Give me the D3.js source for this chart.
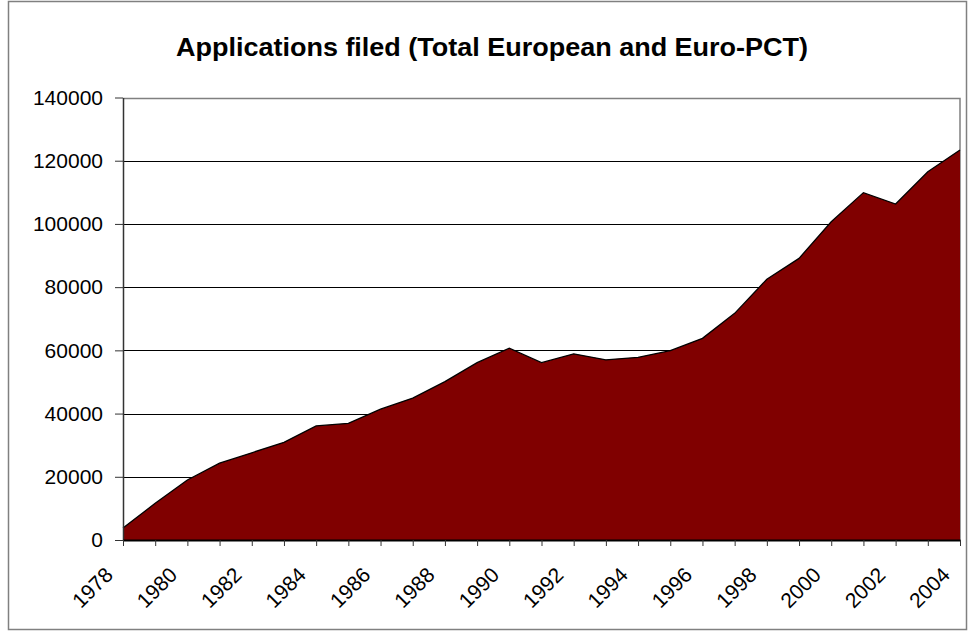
<!DOCTYPE html>
<html>
<head>
<meta charset="utf-8">
<script src="https://cdn.jsdelivr.net/npm/d3@7"></script>
<style>
  html, body { margin: 0; padding: 0; background: #fff; }
  svg { display: block; font-family: Arial, "Liberation Sans", sans-serif; }
</style>
</head>
<body>
<svg id="chart" width="968" height="632"></svg>
<script>
const title = "Applications filed (Total European and Euro-PCT)";
const years = [1978,1979,1980,1981,1982,1983,1984,1985,1986,1987,1988,1989,1990,1991,1992,1993,1994,1995,1996,1997,1998,1999,2000,2001,2002,2003,2004];
const applications = [3800,11600,19000,24300,27600,30900,36100,36900,41400,44900,50100,56100,60700,56100,58900,57000,57800,59900,63800,71700,82500,89100,100700,109900,106300,116500,123400];
const yTicks = [0,20000,40000,60000,80000,100000,120000,140000];
const xLabelYears = [1978,1980,1982,1984,1986,1988,1990,1992,1994,1996,1998,2000,2002,2004];

const svg = d3.select("#chart");
const L = 123, R = 960, T = 97.5, B = 540;

// outer border
svg.append("rect").attr("x", 8.5).attr("y", 1.5).attr("width", 958).attr("height", 628)
  .attr("fill", "#fff").attr("stroke", "#808080").attr("stroke-width", 1.5);

const x = d3.scaleLinear().domain([years[0], years[years.length-1]]).range([L, R]);
const y = d3.scaleLinear().domain([0, 140000]).range([B, T]);

// gridlines
svg.append("g").selectAll("line").data(yTicks.filter(d => d > 0 && d < 140000)).join("line")
  .attr("x1", L).attr("x2", R).attr("y1", d => Math.round(y(d)) + 0.5).attr("y2", d => Math.round(y(d)) + 0.5)
  .attr("stroke", "#000").attr("stroke-width", 1);

// plot border top & right (gray)
svg.append("path")
  .attr("d", `M${L},${Math.round(T)+0.5}H${R}V${B}`)
  .attr("fill", "none").attr("stroke", "#808080").attr("stroke-width", 1.5);

// area
const data = years.map((yr, i) => ({ yr, v: applications[i] }));
svg.append("path").datum(data)
  .attr("d", d3.area().x(d => x(d.yr)).y0(y(0)).y1(d => y(d.v)))
  .attr("fill", "#800000");
svg.append("path").datum(data)
  .attr("d", d3.line().x(d => x(d.yr)).y(d => y(d.v)))
  .attr("fill", "none").attr("stroke", "#000").attr("stroke-width", 1.3);

// y axis
const yAxis = d3.axisLeft(y).tickValues(yTicks).tickSize(8).tickSizeOuter(0).tickPadding(12).tickFormat(d3.format("d"));
const gy = svg.append("g").attr("transform", `translate(${L},0)`).call(yAxis);
gy.select(".domain").attr("stroke", "#333").attr("stroke-width", 1.5);
gy.selectAll(".tick line").attr("stroke", "#333");
gy.selectAll(".tick text").attr("font-size", 21).attr("fill", "#000")
  .attr("font-family", "Arial, 'Liberation Sans', sans-serif");

// x axis
const xAxis = d3.axisBottom(x).tickValues(years).tickSize(6).tickSizeOuter(0).tickFormat("");
const gx = svg.append("g").attr("transform", `translate(0,${B})`).call(xAxis);
gx.select(".domain").attr("stroke", "#000").attr("stroke-width", 2);
gx.selectAll(".tick line").attr("stroke", "#333");

// x labels
svg.append("g").selectAll("text").data(xLabelYears).join("text")
  .attr("transform", d => `translate(${x(d) - 20},${B + 25}) rotate(-45)`)
  .attr("text-anchor", "end")
  .attr("dy", "0.75em")
  .attr("font-size", 21)
  .attr("fill", "#000")
  .text(d => d);

// title
svg.append("text")
  .attr("x", 492).attr("y", 56)
  .attr("text-anchor", "middle")
  .attr("font-size", 26).attr("font-weight", "bold")
  .attr("textLength", 632).attr("lengthAdjust", "spacingAndGlyphs")
  .text(title);
</script>
</body>
</html>
